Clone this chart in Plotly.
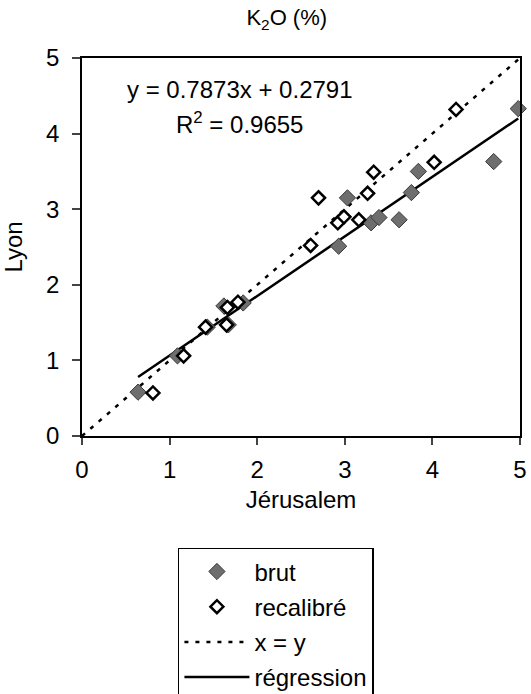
import plotly.graph_objects as go

# Data
brut_x = [0.64, 1.09, 1.43, 1.62, 1.84, 1.67, 2.93, 3.03, 3.30, 3.39, 3.62, 3.76, 3.84, 4.70, 4.98]
brut_y = [0.58, 1.06, 1.44, 1.72, 1.76, 1.47, 2.51, 3.15, 2.82, 2.89, 2.86, 3.22, 3.50, 3.63, 4.33]

recal_x = [0.81, 1.16, 1.41, 1.66, 1.78, 1.65, 2.61, 2.70, 2.92, 2.99, 3.16, 3.26, 3.33, 4.02, 4.27]
recal_y = [0.57, 1.06, 1.44, 1.70, 1.77, 1.47, 2.52, 3.15, 2.82, 2.90, 2.86, 3.21, 3.49, 3.62, 4.32]

xy_x = [0, 5]
xy_y = [0, 5]

reg_x = [0.64, 4.98]
reg_y = [0.78, 4.20]

x_ticks = [0, 1, 2, 3, 4, 5]
y_ticks = [0, 1, 2, 3, 4, 5]

FONT = "Liberation Sans, Arial, sans-serif"
FS = 24

fig = go.Figure()
fig.add_trace(go.Scatter(
    x=xy_x, y=xy_y, mode="lines", name="x = y", legendgroup="c", legendrank=3,
    line=dict(color="black", width=2.5, dash="4px,7px")))
fig.add_trace(go.Scatter(
    x=reg_x, y=reg_y, mode="lines", name="régression", legendgroup="d", legendrank=4,
    line=dict(color="black", width=2.5)))
fig.add_trace(go.Scatter(
    x=brut_x, y=brut_y, mode="markers", name="brut", legendgroup="a", legendrank=1,
    marker=dict(symbol="diamond", size=12.5, color="#6e6e6e",
                line=dict(color="#3a3a3a", width=1)),
    cliponaxis=False))
fig.add_trace(go.Scatter(
    x=recal_x, y=recal_y, mode="markers", name="recalibré", legendgroup="b", legendrank=2,
    marker=dict(symbol="diamond", size=10, color="white",
                line=dict(color="black", width=2.5)),
    cliponaxis=False))

fig.update_layout(
    width=531, height=694,
    margin=dict(l=82, r=11, t=58, b=258, autoexpand=False),
    paper_bgcolor="white", plot_bgcolor="white",
    font=dict(family=FONT, size=FS, color="black"),
    title=dict(text="K<sub>2</sub>O (%)", x=0.54, xref="container", xanchor="center",
               y=0.975, yref="container", yanchor="middle", font=dict(size=22)),
    showlegend=True,
    legend=dict(
        traceorder="grouped",
        x=0.219, xanchor="left", y=-0.296, yanchor="top",
        bordercolor="black", borderwidth=1.5, bgcolor="white",
        font=dict(size=FS), itemwidth=65, tracegroupgap=1,
    ),
)

fig.update_xaxes(
    range=[0, 5], tickvals=x_ticks, ticks="outside", ticklen=7, tickwidth=1.5,
    showline=True, linecolor="black", linewidth=1.5, mirror=True,
    showgrid=False, zeroline=False, automargin=False, ticklabelstandoff=4,
    title=dict(text="Jérusalem", standoff=10, font=dict(size=FS)),
    tickfont=dict(size=FS),
)
fig.update_yaxes(
    range=[0, 5], tickvals=y_ticks, ticks="outside", ticklen=8, tickwidth=1.5,
    showline=True, linecolor="black", linewidth=1.5, mirror=True,
    showgrid=False, zeroline=False, automargin=False, ticklabelstandoff=8,
    title=dict(text="Lyon", standoff=18, font=dict(size=FS)),
    tickfont=dict(size=FS),
)

fig.add_annotation(x=1.8, y=4.59, xref="x", yref="y", text="y = 0.7873x + 0.2791",
                   showarrow=False, font=dict(size=FS))
fig.add_annotation(x=1.8, y=4.14, xref="x", yref="y", text="R<sup>2</sup> = 0.9655",
                   showarrow=False, font=dict(size=FS))

fig.write_html("out.html", config={"displayModeBar": False},
               post_script="document.body.style.margin='0';document.body.style.padding='0';")
